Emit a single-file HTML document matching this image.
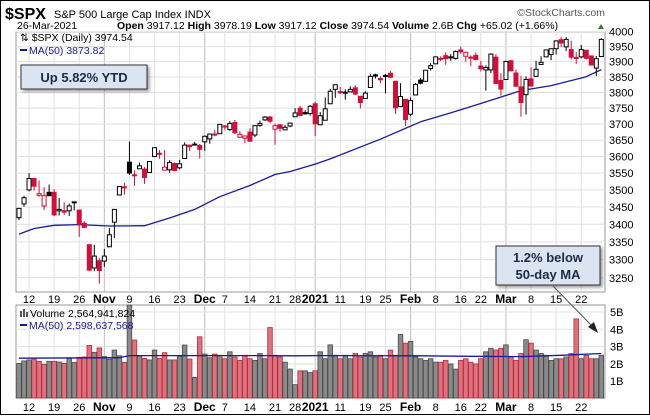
<!DOCTYPE html>
<html><head><meta charset="utf-8"><style>
html,body{margin:0;padding:0;background:#fff;}
body{width:650px;height:415px;overflow:hidden;font-family:"Liberation Sans",sans-serif;}
svg text{font-family:"Liberation Sans",sans-serif;}
</style></head><body>
<svg id="c" width="650" height="415" viewBox="0 0 650 415" xmlns="http://www.w3.org/2000/svg">
<rect x="0.5" y="0.5" width="649" height="414" fill="#fff" stroke="#000"/>
<text x="5" y="19" font-size="16" font-weight="bold">$SPX</text>
<text x="54" y="18" font-size="11">S&amp;P 500 Large Cap Index  INDX</text>
<text x="605" y="16" font-size="10.5" fill="#555" text-anchor="end">©StockCharts.com</text>
<text x="17" y="29" font-size="10.5">26-Mar-2021</text>
<text x="117" y="29" font-size="10.5"><tspan font-weight="bold">Open</tspan> 3917.12 <tspan font-weight="bold">High</tspan> 3978.19 <tspan font-weight="bold">Low</tspan> 3917.12 <tspan font-weight="bold">Close</tspan> 3974.54 <tspan font-weight="bold">Volume</tspan> 2.6B <tspan font-weight="bold">Chg</tspan> +65.02 (+1.66%)</text>
<polygon points="598,29 604,29 601,24" fill="#2e7d32"/>
<g id="price"></g>
<g id="vol"></g>
<g id="ann"></g>
</svg>
<script>
const closes=[3446,3477,3534,3511,3489,3483,3483,3427,3443,3435,3453,3465,3400,3391,3271,3310,3270,
3310,3370,3443,3510,3509,3550,3545,3572,3537,3585,3627,3610,3568,3582,3558,3578,3635,3630,3638,3622,
3662,3669,3666,3699,3692,3702,3673,3668,3663,3647,3695,3702,3722,3709,3695,3687,3690,3703,3735,3727,3732,3756,
3701,3726,3748,3804,3825,3799,3801,3810,3795,3768,3798,3852,3853,3841,3855,3849,3751,3787,3714,
3774,3826,3830,3872,3887,3916,3911,3910,3916,3934,3933,3931,3913,3907,3877,3881,3925,3829,3811,
3901,3870,3820,3768,3842,3821,3875,3898,3939,3943,3969,3962,3974,3915,3913,3940,3911,3889,3910,3974];
const opens=[3419,3459,3500,3534,3484,3453,3493,3493,3439,3439,3439,3464,3441,3403,3342,3277,3297,
3296,3336,3406,3485,3509,3583,3543,3563,3562,3552,3600,3610,3559,3560,3579,3566,3594,3635,3638,3634,
3645,3654,3669,3670,3694,3683,3705,3659,3656,3675,3666,3696,3713,3722,3684,3698,3682,3694,3723,3750,3736,3733,
3764,3698,3712,3764,3810,3803,3801,3802,3815,3788,3781,3816,3857,3845,3852,3862,3836,3755,3778,
3731,3792,3840,3836,3878,3893,3911,3920,3916,3911,3939,3918,3915,3921,3886,3873,3873,3915,3839,
3842,3903,3863,3818,3793,3844,3852,3891,3916,3924,3943,3973,3949,3940,3914,3916,3938,3919,3879,3917];
const highs=[3447,3483,3550,3535,3528,3508,3516,3502,3476,3464,3460,3466,3441,3409,3342,3342,3305,
3330,3389,3440,3511,3521,3646,3558,3582,3568,3586,3628,3620,3620,3590,3582,3590,3643,3635,3645,3638,
3665,3670,3682,3700,3697,3709,3713,3678,3665,3687,3697,3711,3725,3726,3702,3698,3697,3703,3750,3757,3744,3760,
3770,3738,3784,3811,3826,3818,3810,3820,3823,3788,3804,3859,3861,3852,3860,3870,3836,3830,3779,
3784,3831,3847,3872,3895,3916,3918,3931,3925,3937,3950,3933,3921,3930,3902,3888,3928,3925,3862,
3901,3906,3874,3853,3852,3882,3903,3918,3940,3944,3971,3983,3982,3970,3932,3956,3938,3920,3919,3978];
const lows=[3412,3451,3496,3498,3480,3441,3482,3424,3425,3427,3424,3440,3364,3389,3268,3268,3234,
3280,3336,3361,3485,3486,3545,3512,3563,3518,3552,3600,3593,3568,3551,3556,3561,3594,3617,3635,3594,
3618,3639,3662,3670,3681,3679,3669,3657,3641,3644,3659,3692,3710,3703,3636,3676,3682,3690,3723,3727,3730,3726,
3663,3696,3712,3764,3783,3795,3777,3802,3792,3749,3780,3816,3845,3830,3797,3847,3732,3755,3694,
3725,3791,3826,3836,3871,3893,3902,3890,3903,3907,3925,3900,3885,3905,3868,3806,3863,3829,3790,
3842,3868,3818,3723,3730,3818,3852,3891,3916,3905,3924,3948,3935,3907,3893,3911,3907,3889,3853,3917];
const volumes=[2.03,2.17,2.23,2.28,2.15,1.98,2.15,2.15,2.11,2.03,2.32,2.09,2.38,2.4,3.07,2.67,2.92,
2.42,2.27,2.8,2.47,2.09,5.4,3.38,2.46,2.32,2.23,2.8,2.32,2.65,2.23,2.23,2.42,3.09,2.28,1.22,3.57,
2.57,2.36,2.57,2.5,2.3,2.7,2.4,2.2,2.5,2.3,2.2,2.6,2.3,4.1,2.5,2.4,2.1,1.7,0.8,1.6,1.6,1.5,1.6,
2.7,2.3,3.1,2.5,2.3,2.5,2.3,2.6,2.4,2.6,2.7,2.4,2.5,2.3,2.8,2.5,3.7,3.2,3.3,
2.4,2.3,2.2,2.3,2.1,2.1,2.2,2.0,1.7,2.2,2.3,2.1,2.0,2.3,2.7,2.9,2.8,2.9,3.1,
2.4,2.2,2.6,3.4,3.2,2.8,2.6,2.5,2.2,2.3,2.3,2.4,2.6,4.6,2.3,2.5,2.3,2.3,2.5];
const maIdx=[0,3,7,12,18,25,30,35,40,46,51,54,59,62,72,80,86,93,100,106,113,116];
const maVal=[3372,3388,3397,3399,3395,3396,3418,3443,3480,3513,3546,3555,3577,3593,3653,3707,3735,3770,3806,3822,3851,3874];
const vmaIdx=[0,20,22,45,55,60,80,90,100,108,116];
const vmaVal=[2.33,2.36,2.48,2.48,2.47,2.48,2.47,2.44,2.42,2.5,2.6];
const priceTicks=[3250,3300,3350,3400,3450,3500,3550,3600,3650,3700,3750,3800,3850,3900,3950,4000];
const volTicks=[1,2,3,4,5];
const xTickIdx=[2,7,12,17,22,27,32,37,41,46,51,55,59,64,69,73,78,83,88,92,97,102,107,112];
const xTickLbl=["12","19","26","Nov","9","16","23","Dec","7","14","21","28","2021","11","19","25","Feb","8","16","22","Mar","8","15","22"];

const NS="http://www.w3.org/2000/svg";
function mk(parent,tag,attrs){const e=document.createElementNS(NS,tag);for(const k in attrs)e.setAttribute(k,attrs[k]);parent.appendChild(e);return e;}
const PL=16,PR=605,PT=32,PB=292,VT=305,VB=398;
const xs=i=>19+i*5.02;
const yp=p=>31.7+1185*Math.log(4000/p);
const yv=v=>398.5-17.3*v;
const price=document.getElementById('price'),vol=document.getElementById('vol'),ann=document.getElementById('ann');

function panel(g,top,bot,name){
  const r=mk(g,'rect',{x:PL,y:top,width:PR-PL,height:bot-top,fill:'#fff',stroke:'#999'});
  
  
  xTickIdx.forEach((ix,k)=>{
    const major=isNaN(+xTickLbl[k])||xTickLbl[k]==='2021';
    const l=mk(g,'line',{x1:xs(ix),x2:xs(ix),y1:top,y2:bot,stroke:major?'#bdbdbd':'#e0e0e0','stroke-width':1});
    
    
  });
}
panel(price,PT,PB,'price-plot-area');
priceTicks.forEach(p=>{
  const y=yp(p);
  const l=mk(price,'line',{x1:PL,x2:PR,y1:y,y2:y,stroke:'#e0e0e0'});
  
  
  const t=mk(price,'text',{x:609,y:y+4,'font-size':11});
  t.textContent=p;
  
  
});
let d='';
maIdx.forEach((ix,k)=>{d+=(k?'L':'M')+xs(ix).toFixed(1)+','+yp(maVal[k]).toFixed(1);});
const ma=mk(price,'path',{d:d,fill:'none',stroke:'#1a1a9c','stroke-width':1.3,'stroke-linejoin':'round'});


closes.forEach((c,i)=>{
  const o=opens[i],h=highs[i],l=lows[i];
  const prev=i?closes[i-1]:o;
  const col=c<prev?'#d0103a':'#000';
  const x=xs(i);
  const g=mk(price,'g',{});
  
  
  mk(g,'line',{x1:x,x2:x,y1:yp(h),y2:yp(l),stroke:col,'stroke-width':1});
  const top=yp(Math.max(o,c)),bot=yp(Math.min(o,c));
  const filled=c<o;
  mk(g,'rect',{x:x-2,y:top,width:4,height:Math.max(bot-top,1),fill:filled?col:'#fff',stroke:col,'stroke-width':1});
});
const lg=mk(price,'text',{x:20,y:41,'font-size':10.5});
lg.textContent='⇅ $SPX (Daily) 3974.54';


mk(price,'line',{x1:20,x2:27,y1:50,y2:50,stroke:'#1a1a9c','stroke-width':2});
const lg2=mk(price,'text',{x:29,y:54,'font-size':10.5,fill:'#1a1a9c'});
lg2.textContent='MA(50) 3873.82';



[298,406].forEach(yy=>{
  xTickIdx.forEach((ix,k)=>{
    const lbl=xTickLbl[k];const bold=isNaN(+lbl)||lbl==='2021';
    const t=mk(ann,'text',{x:xs(ix),y:yy+5,'font-size':bold?12:11,'font-weight':bold?'bold':'normal','text-anchor':'middle'});
    t.textContent=lbl;
    
    
  });
});

panel(vol,VT,VB,'volume-plot-area');
volTicks.forEach(v=>{
  const y=yv(v);
  const l=mk(vol,'line',{x1:PL,x2:PR,y1:y,y2:y,stroke:'#e0e0e0'});
  
  
  const t=mk(vol,'text',{x:610,y:y+4,'font-size':11});
  t.textContent=v+'B';
  
  
});
volumes.forEach((v,i)=>{
  const prev=i?closes[i-1]:opens[i];
  const red=closes[i]<prev;
  const y=Math.max(yv(v),VT);
  const b=mk(vol,'rect',{x:xs(i)-2.3,y:y,width:4.6,height:VB-y,fill:red?'#d9737f':'#8a8a8a',stroke:red?'#c0283a':'#4a4a4a','stroke-width':0.8});
  
  
});
let d2='';
vmaIdx.forEach((ix,k)=>{d2+=(k?'L':'M')+xs(ix).toFixed(1)+','+yv(vmaVal[k]).toFixed(1);});
const vma=mk(vol,'path',{d:d2,fill:'none',stroke:'#1a1a9c','stroke-width':1.3});


mk(vol,'rect',{x:20,y:311,width:2,height:6,fill:'#555'});
mk(vol,'rect',{x:23,y:309,width:2,height:8,fill:'#555'});
mk(vol,'rect',{x:26,y:312,width:2,height:5,fill:'#555'});
const vl=mk(vol,'text',{x:30,y:317,'font-size':10.5});
vl.textContent='Volume 2,564,941,824';


mk(vol,'line',{x1:20,x2:27,y1:325,y2:325,stroke:'#1a1a9c','stroke-width':2});
const vl2=mk(vol,'text',{x:29,y:329,'font-size':10.5,fill:'#1a1a9c'});
vl2.textContent='MA(50) 2,598,637,568';


</script>
<svg style="position:absolute;left:0;top:0" width="650" height="415">
<defs><filter id="sh" x="-10%" y="-10%" width="130%" height="140%"><feDropShadow dx="2" dy="2" stdDeviation="1.5" flood-color="#555" flood-opacity="0.6"/></filter></defs>
<rect x="21" y="65" width="126" height="24" fill="#dbe5f1" stroke="#333" filter="url(#sh)"/>
<text x="84" y="82" font-size="13" font-weight="bold" fill="#1f2a44" text-anchor="middle" font-family="Liberation Sans, sans-serif">Up 5.82% YTD</text>
<line x1="553" y1="286" x2="594" y2="328" stroke="#555" stroke-width="1"/>
<polygon points="598,333 588,327 594,322" fill="#222"/>
<rect x="496" y="246" width="104" height="39" fill="#dbe5f1" stroke="#333" filter="url(#sh)"/>
<text x="548" y="262" font-size="13" font-weight="bold" fill="#1f2a44" text-anchor="middle" font-family="Liberation Sans, sans-serif">1.2% below</text>
<text x="548" y="279" font-size="13" font-weight="bold" fill="#1f2a44" text-anchor="middle" font-family="Liberation Sans, sans-serif">50-day MA</text>
</svg>
</body></html>
